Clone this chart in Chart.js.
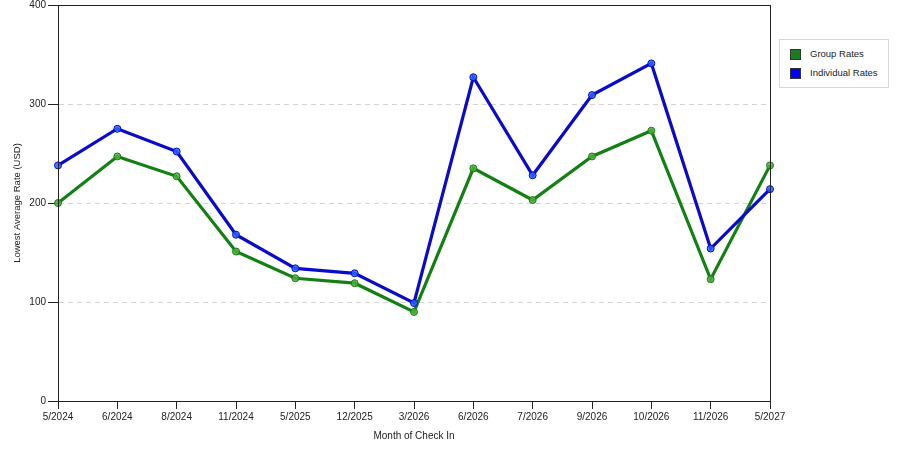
<!DOCTYPE html>
<html>
<head>
<meta charset="utf-8">
<title>Lowest Average Rate</title>
<script src="https://cdn.jsdelivr.net/npm/chart.js@4/dist/chart.umd.min.js"></script>
<style>
  html, body { margin: 0; padding: 0; background: #fff; }
  #wrap { position: relative; width: 900px; height: 450px; }
  #legend {
    position: absolute; left: 779px; top: 39px; width: 108px; height: 47px;
    border: 1px solid #d8d8d8; background: #fff;
    font: 9.5px "Liberation Sans", Arial, sans-serif; color: #222;
  }
  #legend div { position: absolute; left: 10px; height: 12px; line-height: 12px; }
  #legend span.box {
    display: inline-block; width: 11px; height: 11px; vertical-align: middle;
    margin-right: 9px; box-sizing: border-box; border: 1px solid #333;
  }
</style>
</head>
<body>
<div id="wrap">
  <canvas id="chart" width="900" height="450"></canvas>
  <div id="legend">
    <div style="top:8px"><span class="box" style="background:#1a7f1a"></span>Group Rates</div>
    <div style="top:27px"><span class="box" style="background:#0000ff"></span>Individual Rates</div>
  </div>
</div>
<script>
  const months = ['5/2024', '6/2024', '8/2024', '11/2024', '5/2025', '12/2025', '3/2026',
                  '6/2026', '7/2026', '9/2026', '10/2026', '11/2026', '5/2027'];
  const groupRates = [200, 247, 227, 151, 124, 119, 90, 235, 203, 247, 273, 123, 238];
  const individualRates = [238, 275, 252, 168, 134, 129, 99, 327, 228, 309, 341, 154, 214];
  const yTicks = [0, 100, 200, 300, 400];

  const FONT = { family: "'Liberation Sans', Arial, sans-serif", size: 10 };

  // box frame around the plot area
  const framePlugin = {
    id: 'frame',
    afterDatasetsDraw(chart) {
      const { ctx, chartArea: a } = chart;
      ctx.save();
      ctx.strokeStyle = '#222';
      ctx.lineWidth = 1;
      ctx.strokeRect(a.left + 0.5, a.top + 0.5, a.right - a.left, a.bottom - a.top);
      ctx.restore();
    }
  };

  new Chart(document.getElementById('chart'), {
    type: 'line',
    data: {
      labels: months,
      datasets: [
        {
          label: 'Group Rates',
          data: groupRates,
          borderColor: '#148014',
          backgroundColor: '#148014',
          pointBackgroundColor: 'rgba(80,170,60,0.85)',
          pointBorderColor: '#148014',
          borderWidth: 3.2,
          pointRadius: 3.5,
          pointBorderWidth: 1,
          tension: 0,
          order: 1,
        },
        {
          label: 'Individual Rates',
          data: individualRates,
          borderColor: '#0a0acc',
          backgroundColor: '#0a0acc',
          pointBackgroundColor: 'rgba(40,100,255,0.85)',
          pointBorderColor: '#0a0acc',
          borderWidth: 3.2,
          pointRadius: 3.5,
          pointBorderWidth: 1,
          tension: 0,
          order: 0,
        },
      ],
    },
    options: {
      responsive: false,
      animation: false,
      layout: { padding: { top: 5, right: 130, left: 0, bottom: 0 } },
      scales: {
        x: {
          offset: false,
          grid: { drawOnChartArea: false, tickLength: 8, tickColor: '#222' },
          border: { color: '#222' },
          ticks: { color: '#222', font: FONT, maxRotation: 0, autoSkip: false, padding: 2 },
          title: { display: true, text: 'Month of Check In', color: '#222', font: FONT, padding: { top: 5, bottom: 8 } },
        },
        y: {
          min: 0,
          max: 400,
          afterBuildTicks(axis) { axis.ticks = yTicks.map(v => ({ value: v })); },
          afterFit(axis) { axis.width = 58; axis.paddingTop = 0; axis.paddingBottom = 0; },
          grid: { color: '#d4d4d4', tickColor: '#222', tickLength: 10 },
          border: { color: '#222', dash: [5, 4] },
          ticks: { color: '#222', font: FONT, padding: 2 },
          title: { display: true, text: 'Lowest Average Rate (USD)', color: '#222', font: { ...FONT, size: 9.5 }, padding: { top: 12, bottom: 0 } },
        },
      },
      plugins: {
        legend: { display: false },
        tooltip: { enabled: false },
      },
    },
    plugins: [framePlugin],
  });
</script>
</body>
</html>
